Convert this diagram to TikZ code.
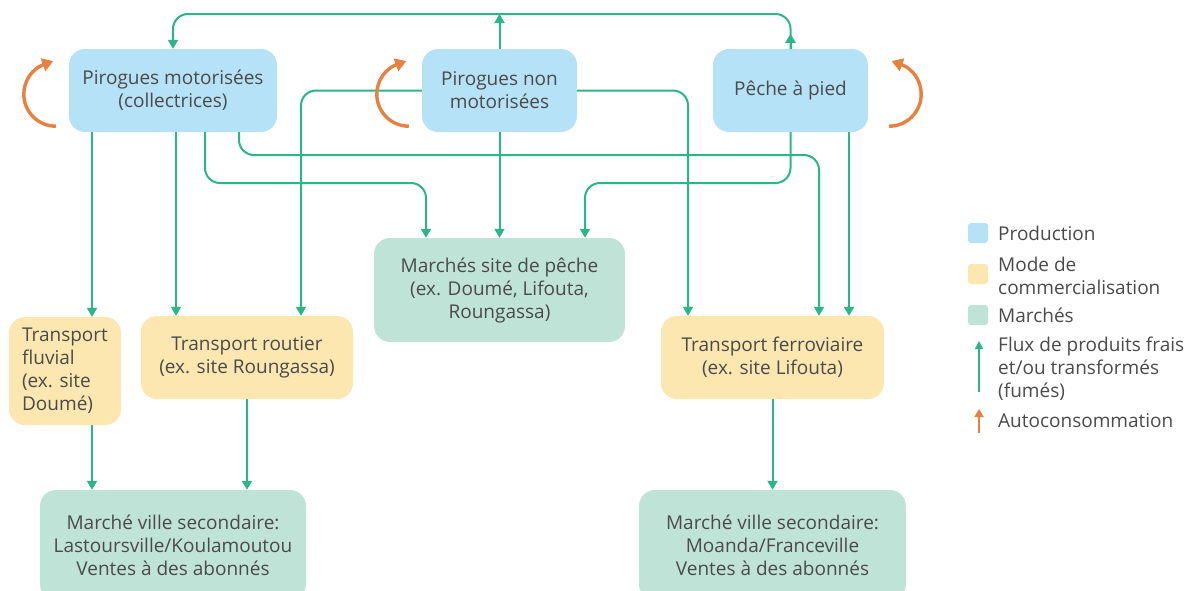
\documentclass[tikz,border=0pt]{standalone}
\usepackage{fontspec}
\setmainfont{Open Sans}
\usetikzlibrary{arrows.meta}
\definecolor{prodblue}{HTML}{B5E2F6}
\definecolor{modeyellow}{HTML}{FDE7B1}
\definecolor{marchegreen}{HTML}{C0E3D8}
\definecolor{flowgreen}{HTML}{2BB686}
\definecolor{selforange}{HTML}{E8803F}
\definecolor{textgrey}{HTML}{4A4A4A}
\begin{document}
\begin{tikzpicture}[x=1pt, y=1pt,
    font=\fontsize{19}{23}\selectfont, text=textgrey,
    box/.style={rounded corners=16pt, inner sep=2pt, align=center},
    prod/.style={box, fill=prodblue},
    mode/.style={box, fill=modeyellow},
    market/.style={box, fill=marchegreen},
    flow/.style={draw=flowgreen, line width=2pt, -{Triangle[width=10pt,length=9pt]}},
    self/.style={draw=selforange, line width=3.4pt, -{Triangle[width=13pt,length=11pt]}, shorten >=-9pt},
    key/.style={rounded corners=3pt, minimum size=20pt, inner sep=0pt},
    keytext/.style={anchor=west, align=left, inner sep=0pt}]
            \useasboundingbox (0,0) rectangle (1202,-590);
            \clip (0,0) rectangle (1202,-590);
            \node[prod, minimum width=208pt, minimum height=83pt] (0) at (173,-90.5) {Pirogues motorisées\\(collectrices)};
            \node[prod, minimum width=155pt, minimum height=83pt] (1) at (499.5,-90.5) {Pirogues non\\motorisées};
            \node[prod, minimum width=155pt, minimum height=83pt] (2) at (790.5,-90.5) {Pêche à pied};
            \node[market, minimum width=251pt, minimum height=104pt] (3) at (499.5,-290) {Marchés site de pêche\\(ex. Doumé, Lifouta,\\Roungassa)};
            \node[mode, minimum width=112pt, minimum height=108pt, align=left] (4) at (65,-371) {Transport\\fluvial\\(ex. site\\Doumé)};
            \node[mode, minimum width=212pt, minimum height=83pt] (5) at (247,-357.5) {Transport routier\\(ex. site Roungassa)};
            \node[mode, minimum width=223pt, minimum height=83pt] (6) at (772.5,-357.5) {Transport ferroviaire\\(ex. site Lifouta)};
            \node[market, minimum width=266pt, minimum height=110pt] (7) at (173,-545) {Marché ville secondaire:\\Lastoursville/Koulamoutou\\Ventes à des abonnés};
            \node[market, minimum width=267pt, minimum height=110pt] (8) at (772.5,-545) {Marché ville secondaire:\\Moanda/Franceville\\Ventes à des abonnés};
            \coordinate (9) at (0,-14);
            \coordinate (10) at (426,-183);
            \coordinate (11) at (819,-155);
            \coordinate (12) at (301,-90.5);
            \coordinate (13) at (688,-90.5);
            \coordinate (14) at (585,-183);
            \draw[flow, rounded corners=15pt] (2.north) -- (2.north |- 9) -- (0.north |- 9) -- (0.north);
            \draw[flow] (2.north) to ([yshift=15pt]2.north);
            \draw[flow] (1.north) to (1.north |- 9);
            \draw[flow] ([xshift=-81pt]0.south) to ([xshift=-81pt]0.south |- 4.north);
            \draw[flow] ([xshift=3pt]0.south) to ([xshift=3pt]0.south |- 5.north);
            \draw[flow, rounded corners=15pt] ([xshift=32pt]0.south) |- (10) -- (10 |- 3.north);
            \draw[flow, rounded corners=15pt] ([xshift=66pt]0.south) |- (11) -- (11 |- 6.north);
            \draw[flow, rounded corners=15pt] (1.west) -- (12) -- (12 |- 5.north);
            \draw[flow] (1.south) to (1.south |- 3.north);
            \draw[flow, rounded corners=15pt] (1.east) -- (13) -- (13 |- 6.north);
            \draw[flow, rounded corners=15pt] (2.south) |- (14) -- (14 |- 3.north);
            \draw[flow] ([xshift=58.5pt]2.south) to ([xshift=58.5pt]2.south |- 6.north);
            \draw[flow] ([xshift=27pt]4.south) to ([xshift=27pt]4.south |- 7.north);
            \draw[flow] (5.south) to (5.south |- 7.north);
            \draw[flow] (6.south) to (6.south |- 8.north);
            \draw[self] ([shift={(-13pt,6pt)}]0.south west) arc[start angle=-90, end angle=-250, radius=32pt];
            \draw[self] ([shift={(-13pt,6pt)}]1.south west) arc[start angle=-90, end angle=-250, radius=32pt];
            \draw[self] ([shift={(21pt,6pt)}]2.south east) arc[start angle=-90, end angle=70, radius=32pt];
            \node[key, fill=prodblue] (15) at (978,-233) {};
            \node[keytext] (16) at (998,-233) {Production};
            \node[key, fill=modeyellow] (17) at (978,-274) {};
            \node[keytext] (18) at (998,-276) {Mode de\\commercialisation};
            \node[key, fill=marchegreen] (19) at (978,-315) {};
            \node[keytext] (20) at (998,-315) {Marchés};
            \coordinate (21) at (979,-392);
            \coordinate (22) at (979,-341);
            \draw[flow, line width=1.4pt, -{Triangle[width=8pt,length=8pt]}] (21) to (22);
            \node[keytext] (23) at (998,-369) {Flux de produits frais\\et/ou transformés\\(fumés)};
            \coordinate (24) at (979,-433);
            \coordinate (25) at (979,-409);
            \draw[self, shorten >=0pt, line width=2.4pt, -{Triangle[width=9pt,length=8pt]}] (24) to (25);
            \node[keytext] (26) at (998,-421) {Autoconsommation};
\end{tikzpicture}
\end{document}
